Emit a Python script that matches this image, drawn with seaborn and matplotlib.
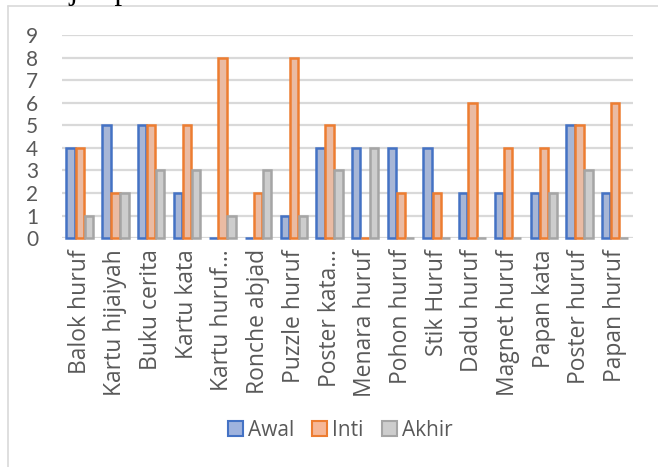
import pandas as pd
import numpy as np
import matplotlib.pyplot as plt
import seaborn as sns
from matplotlib.patches import Rectangle

# ---- data ----
categories = ['Balok huruf', 'Kartu hijaiyah', 'Buku cerita', 'Kartu kata', 'Kartu huruf…',
              'Ronche abjad', 'Puzzle huruf', 'Poster kata…', 'Menara huruf', 'Pohon huruf',
              'Stik Huruf', 'Dadu huruf', 'Magnet huruf', 'Papan kata', 'Poster huruf', 'Papan huruf']
awal = [4, 5, 5, 2, 0, 0, 1, 4, 4, 4, 4, 2, 2, 2, 5, 2]
inti = [4, 2, 5, 5, 8, 2, 8, 5, 0, 2, 2, 6, 4, 4, 5, 6]
akhir = [1, 2, 3, 3, 1, 3, 1, 3, 4, 0, 0, 0, 0, 2, 3, 0]
series = ['Awal', 'Inti', 'Akhir']

df = pd.DataFrame({'Kategori': categories * 3,
                   'Nilai': awal + inti + akhir,
                   'Seri': np.repeat(series, len(categories))})

fills = {'Awal': '#9fb3de', 'Inti': '#f6b797', 'Akhir': '#cdcdcd'}
edges = {'Awal': '#4472c4', 'Inti': '#ed7d31', 'Akhir': '#a5a5a5'}

sns.set_style('white')
plt.rcParams['font.family'] = ['Lato', 'DejaVu Sans']

fig = plt.figure(figsize=(6.58, 4.67), dpi=100)
ax = fig.add_axes([0.094, 0.49, 0.868, 0.435])

sns.barplot(data=df, x='Kategori', y='Nilai', hue='Seri', palette=fills,
            width=0.76, gap=0.08, ax=ax, legend=False, zorder=3)

# border colours per series
for cont, s in zip(ax.containers, series):
    for bar in cont:
        bar.set_edgecolor(edges[s])
        bar.set_linewidth(1.8)
        bar.set_clip_on(False)

ax.set_ylim(0, 9)
ax.set_xlim(-0.5, len(categories) - 0.5)
ax.set_yticks(range(10))
ax.yaxis.grid(True, color='#d9d9d9', linewidth=1.6, zorder=0)
ax.set_axisbelow(True)
for sp in ax.spines.values():
    sp.set_visible(False)
ax.set_xlabel('')
ax.set_ylabel('')
ax.tick_params(axis='both', length=0, colors='#595959')
ax.tick_params(axis='y', pad=17, labelsize=15)
ax.tick_params(axis='x', pad=8)
for lab in ax.get_xticklabels():
    lab.set_rotation(90)
    lab.set_fontfamily(['Open Sans', 'DejaVu Sans'])
    lab.set_fontsize(16.5)

# legend
handles = [Rectangle((0, 0), 1, 1, facecolor=fills[s], edgecolor=edges[s], linewidth=1.5)
           for s in series]
fig.legend(handles, series, loc='center', bbox_to_anchor=(0.517, 0.079), ncol=3,
           frameon=False, prop={'family': 'Open Sans', 'size': 15}, labelcolor='#595959',
           handlelength=0.72, handleheight=0.72, handletextpad=0.24, columnspacing=0.87)

# chart frame
fig.add_artist(plt.Line2D([0.012, 0.012], [0, 0.987], color='#d9d9d9', linewidth=1.2))
fig.add_artist(plt.Line2D([0.012, 1.0], [0.987, 0.987], color='#d9d9d9', linewidth=1.2))

# cropped document text at the top
fig.text(0.06, 1.0 + 1 / 467, 'Hijau pada', fontsize=22, family='Liberation Serif',
         va='baseline', ha='left', color='black')

plt.savefig('out.png', dpi=100)
plt.close()
